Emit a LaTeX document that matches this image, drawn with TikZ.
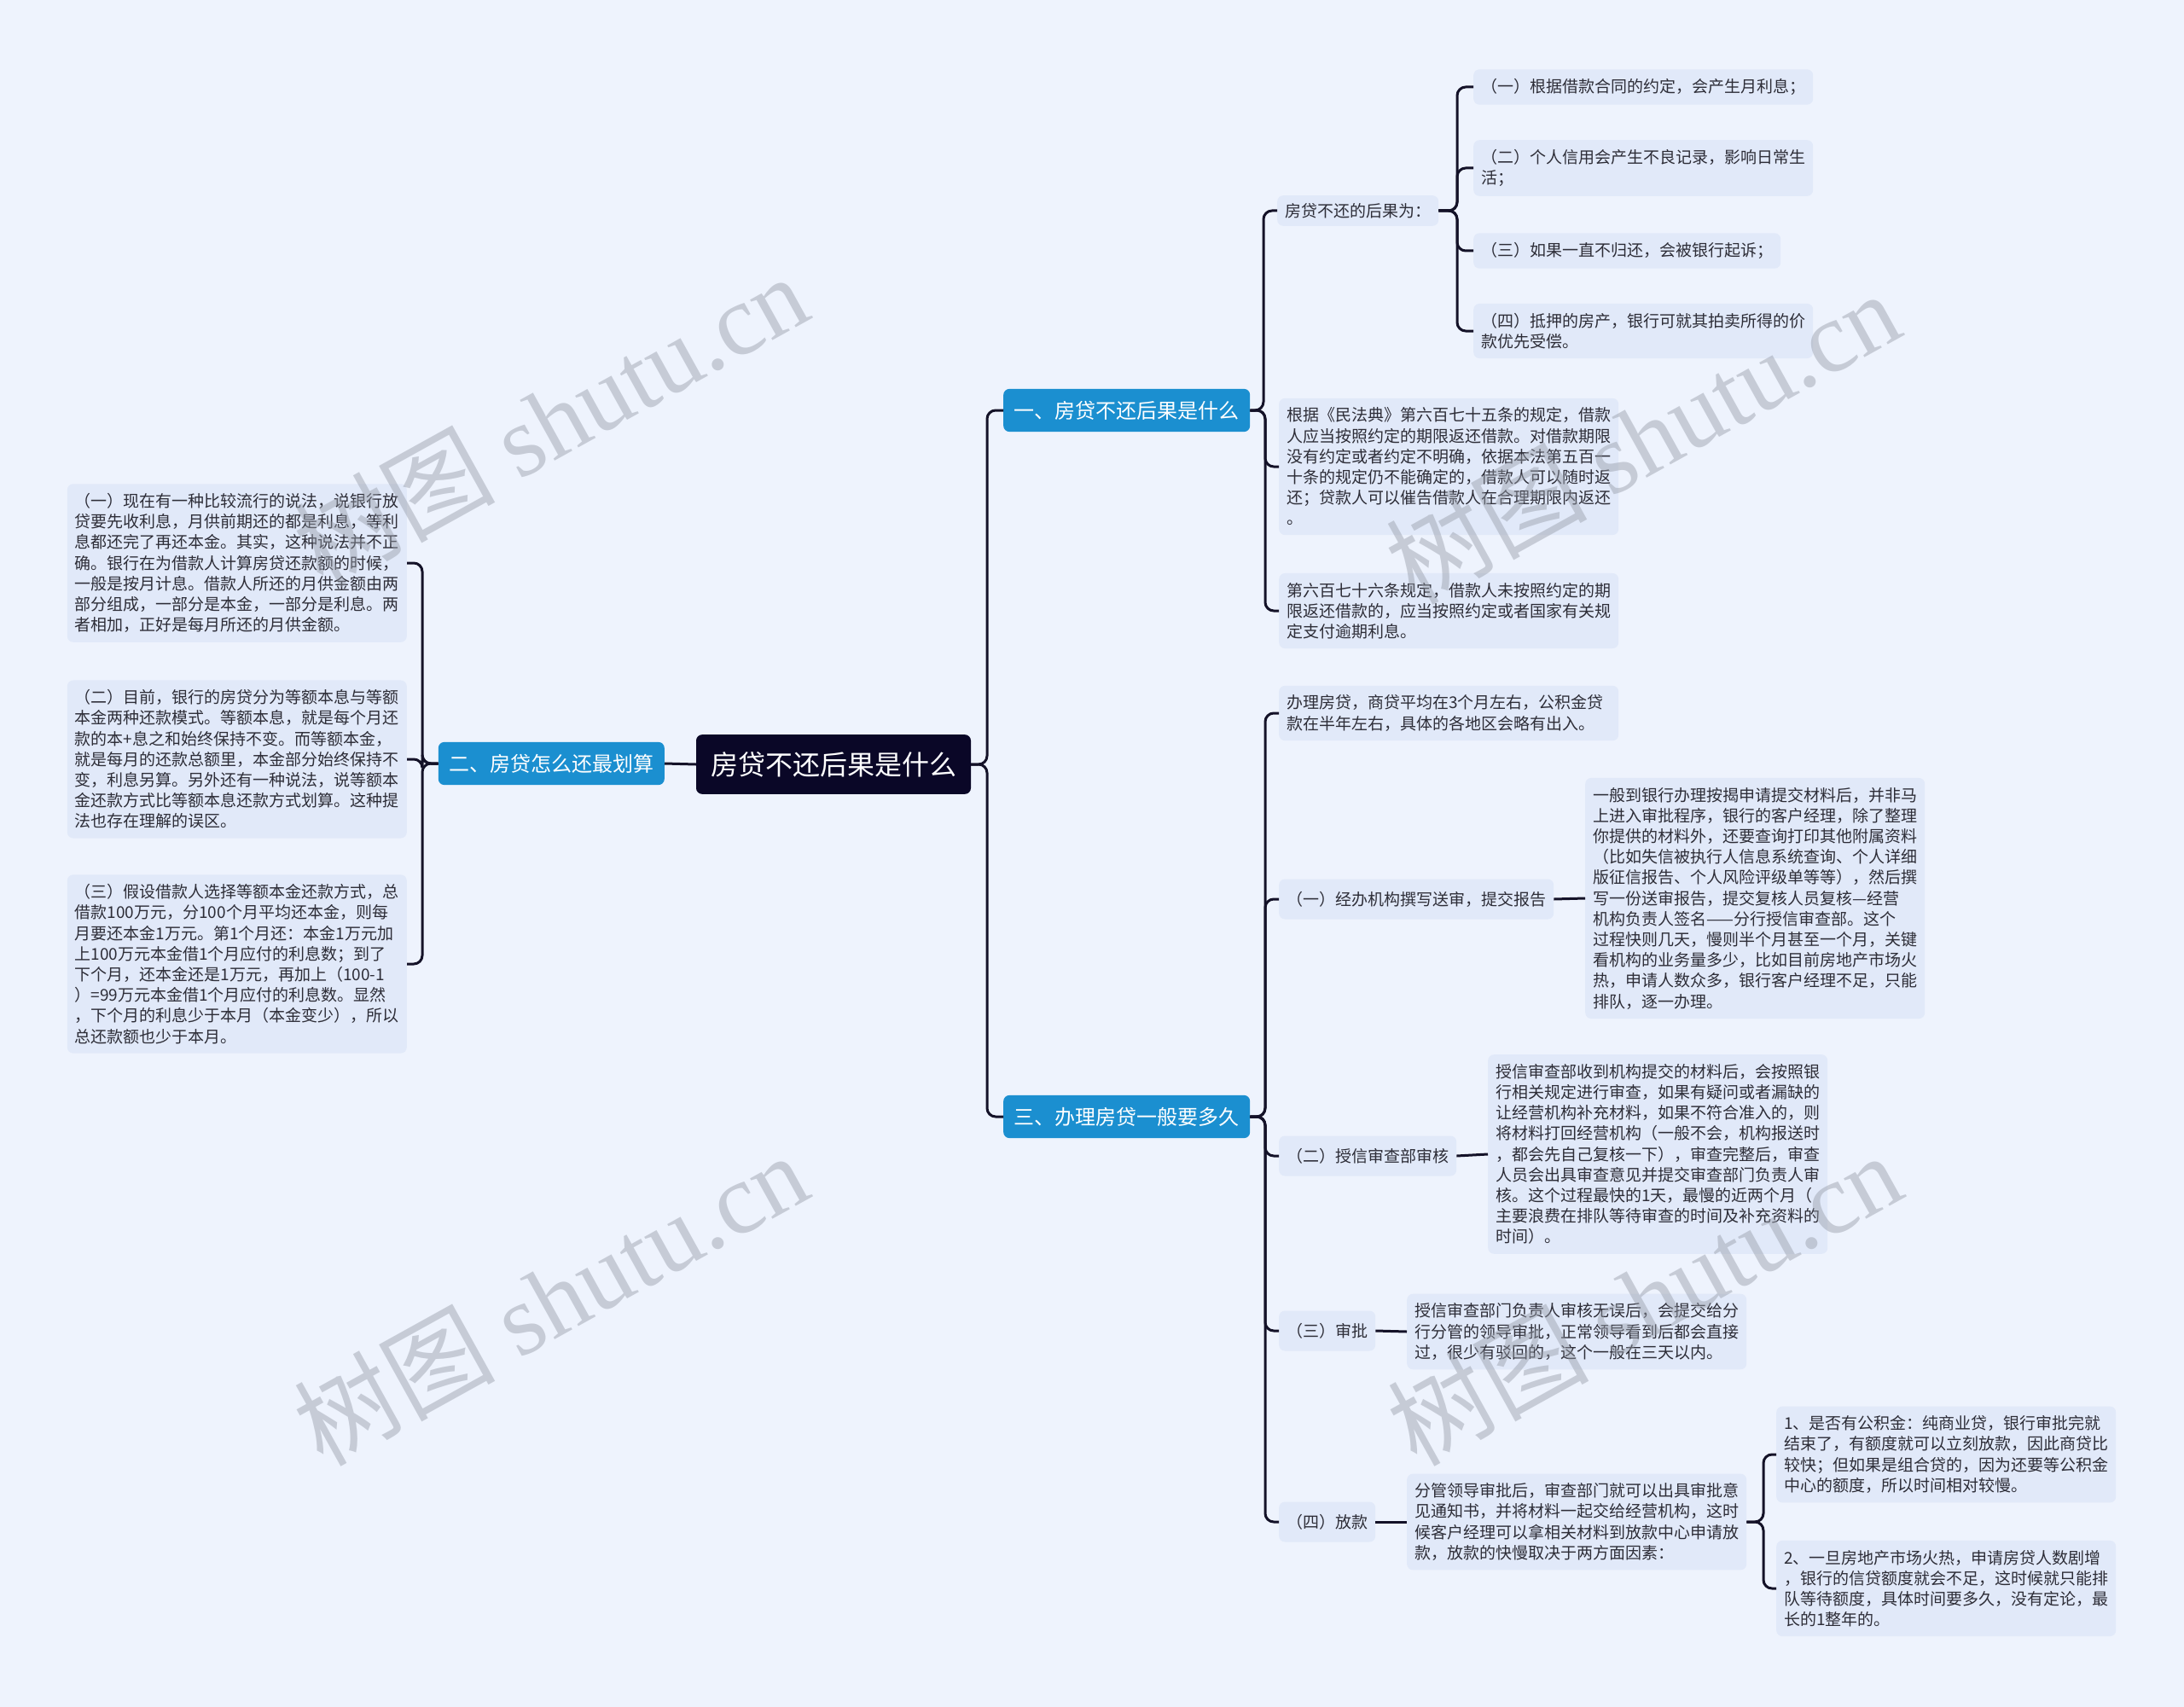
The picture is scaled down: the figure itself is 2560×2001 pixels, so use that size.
\documentclass[tikz,border=0pt]{standalone}
\usepackage{fontspec}
\setmainfont{Noto Sans CJK SC}
\newfontfamily\marcafont{Liberation Serif}

\definecolor{fondo}{RGB}{238,243,253}
\definecolor{caja}{RGB}{225,233,249}
\definecolor{azul}{RGB}{27,143,208}
\definecolor{raizcol}{RGB}{10,7,39}
\definecolor{linea}{RGB}{20,18,40}
\definecolor{texto}{RGB}{45,45,55}
\definecolor{gris}{RGB}{150,156,168}

\tikzset{
  raiz/.style={fill=raizcol, text=white, rounded corners=7pt, inner xsep=17pt, inner ysep=20pt, font=\fontsize{32}{38}\selectfont},
  rama/.style={fill=azul, text=white, rounded corners=7pt, inner xsep=12.5pt, inner ysep=14pt, font=\fontsize{24}{29}\selectfont},
  hoja/.style={fill=caja, text=texto, rounded corners=7pt, inner xsep=9pt, inner ysep=11pt, font=\fontsize{19}{24.2}\selectfont},
  sub/.style={hoja, minimum height=47pt},
  parrafo/.style={hoja, text width=380pt, align=left},
  enlace/.style={draw=linea, line width=3pt, rounded corners=10pt},
  marca/.style={text=gris, opacity=0.45, rotate=29, font=\fontsize{118}{118}\selectfont},
}

\begin{document}
\begin{tikzpicture}[x=1pt,y=-1pt]
		% marco
		\path[use as bounding box, fill=fondo] (0,0) rectangle (2560,2001);
		
		% raiz
		\node[raiz] (raiz) at (977,896) {房贷不还后果是什么};
		
		% ramas
		\node[rama, anchor=west] (r1) at (1176,481) {一、房贷不还后果是什么};
		\node[rama, anchor=east] (r2) at (779,895) {二、房贷怎么还最划算};
		\node[rama, anchor=west] (r3) at (1176,1309) {三、办理房贷一般要多久};
		
		% rama uno
		\node[hoja, inner ysep=9pt, anchor=west] (a0) at (1497,247) {房贷不还的后果为：};
		\node[hoja, anchor=west] (a1) at (1727,102) {（一）根据借款合同的约定，会产生月利息；};
		\node[parrafo, anchor=west] (a2) at (1727,197) {（二）个人信用会产生不良记录，影响日常生\\
活；};
		\node[hoja, anchor=west] (a3) at (1727,294) {（三）如果一直不归还，会被银行起诉；};
		\node[parrafo, anchor=west] (a4) at (1727,388) {（四）抵押的房产，银行可就其拍卖所得的价\\
款优先受偿。};
		\node[parrafo, anchor=west] (b1) at (1499,547) {根据《民法典》第六百七十五条的规定，借款\\
人应当按照约定的期限返还借款。对借款期限\\
没有约定或者约定不明确，依据本法第五百一\\
十条的规定仍不能确定的，借款人可以随时返\\
还；贷款人可以催告借款人在合理期限内返还\\
。};
		\node[parrafo, anchor=west] (b2) at (1499,716) {第六百七十六条规定，借款人未按照约定的期\\
限返还借款的，应当按照约定或者国家有关规\\
定支付逾期利息。};
		
		% rama tres
		\node[parrafo, anchor=west] (c0) at (1499,836) {办理房贷，商贷平均在3个月左右，公积金贷\\
款在半年左右，具体的各地区会略有出入。};
		\node[sub, anchor=west] (c1) at (1499,1054) {（一）经办机构撰写送审，提交报告};
		\node[parrafo, anchor=west] (c1d) at (1858,1053) {一般到银行办理按揭申请提交材料后，并非马\\
上进入审批程序，银行的客户经理，除了整理\\
你提供的材料外，还要查询打印其他附属资料\\
（比如失信被执行人信息系统查询、个人详细\\
版征信报告、个人风险评级单等等），然后撰\\
写一份送审报告，提交复核人员复核—经营\\
机构负责人签名——分行授信审查部。这个\\
过程快则几天，慢则半个月甚至一个月，关键\\
看机构的业务量多少，比如目前房地产市场火\\
热，申请人数众多，银行客户经理不足，只能\\
排队，逐一办理。};
		\node[sub, anchor=west] (c2) at (1499,1355) {（二）授信审查部审核};
		\node[parrafo, anchor=west] (c2d) at (1744,1353) {授信审查部收到机构提交的材料后，会按照银\\
行相关规定进行审查，如果有疑问或者漏缺的\\
让经营机构补充材料，如果不符合准入的，则\\
将材料打回经营机构（一般不会，机构报送时\\
，都会先自己复核一下），审查完整后，审查\\
人员会出具审查意见并提交审查部门负责人审\\
核。这个过程最快的1天，最慢的近两个月（\\
主要浪费在排队等待审查的时间及补充资料的\\
时间）。};
		\node[sub, anchor=west] (c3) at (1499,1560) {（三）审批};
		\node[parrafo, anchor=west] (c3d) at (1649,1561) {授信审查部门负责人审核无误后，会提交给分\\
行分管的领导审批，正常领导看到后都会直接\\
过，很少有驳回的，这个一般在三天以内。};
		\node[sub, anchor=west] (c4) at (1499,1784) {（四）放款};
		\node[parrafo, anchor=west] (c4d) at (1649,1784) {分管领导审批后，审查部门就可以出具审批意\\
见通知书，并将材料一起交给经营机构，这时\\
候客户经理可以拿相关材料到放款中心申请放\\
款，放款的快慢取决于两方面因素：};
		\node[parrafo, anchor=west] (c4a) at (2082,1705) {1、是否有公积金：纯商业贷，银行审批完就\\
结束了，有额度就可以立刻放款，因此商贷比\\
较快；但如果是组合贷的，因为还要等公积金\\
中心的额度，所以时间相对较慢。};
		\node[parrafo, anchor=west] (c4b) at (2082,1862) {2、一旦房地产市场火热，申请房贷人数剧增\\
，银行的信贷额度就会不足，这时候就只能排\\
队等待额度，具体时间要多久，没有定论，最\\
长的1整年的。};
		
		% rama dos
		\node[parrafo, anchor=east] (d1) at (477,660) {（一）现在有一种比较流行的说法，说银行放\\
贷要先收利息，月供前期还的都是利息，等利\\
息都还完了再还本金。其实，这种说法并不正\\
确。银行在为借款人计算房贷还款额的时候，\\
一般是按月计息。借款人所还的月供金额由两\\
部分组成，一部分是本金，一部分是利息。两\\
者相加，正好是每月所还的月供金额。};
		\node[parrafo, anchor=east] (d2) at (477,890) {（二）目前，银行的房贷分为等额本息与等额\\
本金两种还款模式。等额本息，就是每个月还\\
款的本+息之和始终保持不变。而等额本金，\\
就是每月的还款总额里，本金部分始终保持不\\
变，利息另算。另外还有一种说法，说等额本\\
金还款方式比等额本息还款方式划算。这种提\\
法也存在理解的误区。};
		\node[parrafo, anchor=east] (d3) at (477,1130) {（三）假设借款人选择等额本金还款方式，总\\
借款100万元，分100个月平均还本金，则每\\
月要还本金1万元。第1个月还：本金1万元加\\
上100万元本金借1个月应付的利息数；到了\\
下个月，还本金还是1万元，再加上（100-1\\
）=99万元本金借1个月应付的利息数。显然\\
，下个月的利息少于本月（本金变少），所以\\
总还款额也少于本月。};
		
		% conectores
		\draw[enlace] (raiz.west) -- (r2.east);
		\draw[enlace] (raiz.east) -| ([xshift=-19pt]r1.west) -- (r1.west);
		\draw[enlace] (raiz.east) -| ([xshift=-19pt]r3.west) -- (r3.west);
		
		\draw[enlace] (r1.east) -| ([xshift=-16pt]a0.west) -- (a0.west);
		\draw[enlace] (r1.east) -| ([xshift=-16pt]b1.west) -- (b1.west);
		\draw[enlace] (r1.east) -| ([xshift=-16pt]b2.west) -- (b2.west);
		\draw[enlace] (a0.east) -| ([xshift=-19pt]a1.west) -- (a1.west);
		\draw[enlace] (a0.east) -| ([xshift=-19pt]a2.west) -- (a2.west);
		\draw[enlace] (a0.east) -| ([xshift=-19pt]a3.west) -- (a3.west);
		\draw[enlace] (a0.east) -| ([xshift=-19pt]a4.west) -- (a4.west);
		
		\draw[enlace] (r3.east) -| ([xshift=-16pt]c0.west) -- (c0.west);
		\draw[enlace] (r3.east) -| ([xshift=-16pt]c1.west) -- (c1.west);
		\draw[enlace] (r3.east) -| ([xshift=-16pt]c2.west) -- (c2.west);
		\draw[enlace] (r3.east) -| ([xshift=-16pt]c3.west) -- (c3.west);
		\draw[enlace] (r3.east) -| ([xshift=-16pt]c4.west) -- (c4.west);
		\draw[enlace] (c1.east) -- (c1d.west);
		\draw[enlace] (c2.east) -- (c2d.west);
		\draw[enlace] (c3.east) -- (c3d.west);
		\draw[enlace] (c4.east) -- (c4d.west);
		\draw[enlace] (c4d.east) -| ([xshift=-15pt]c4a.west) -- (c4a.west);
		\draw[enlace] (c4d.east) -| ([xshift=-15pt]c4b.west) -- (c4b.west);
		
		\draw[enlace] (r2.west) -| ([xshift=18pt]d1.east) -- (d1.east);
		\draw[enlace] (r2.west) -| ([xshift=18pt]d2.east) -- (d2.east);
		\draw[enlace] (r2.west) -| ([xshift=18pt]d3.east) -- (d3.east);
		
		% marcas de agua
		\node[marca] (m1) at (645,492) {树图 {\marcafont shutu.cn}};
		\node[marca] (m2) at (1925,512) {树图 {\marcafont shutu.cn}};
		\node[marca] (m3) at (645,1522) {树图 {\marcafont shutu.cn}};
		\node[marca] (m4) at (1927,1522) {树图 {\marcafont shutu.cn}};
	\end{tikzpicture}
\end{document}
